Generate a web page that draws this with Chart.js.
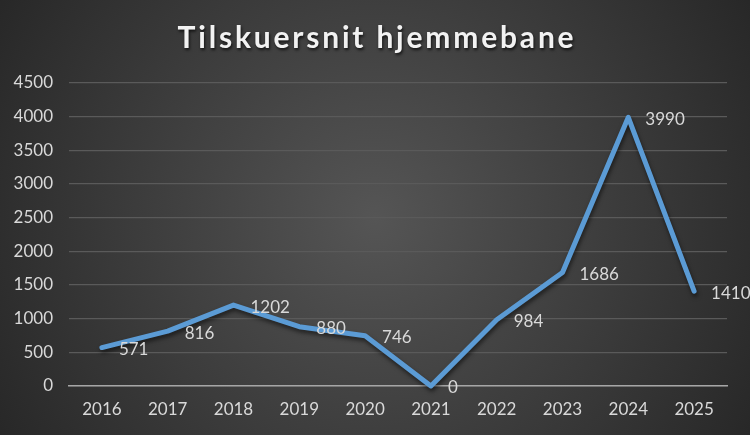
<!DOCTYPE html>
<html>
<head>
<meta charset="utf-8">
<script src="https://cdn.jsdelivr.net/npm/chart.js@4"></script>
<style>
  html, body { margin: 0; padding: 0; background: #2b2b2b; }
  #wrap { width: 750px; height: 435px; position: relative; }
</style>
</head>
<body>
<div id="wrap"><canvas id="chart"></canvas></div>
<script>
const years = ["2016", "2017", "2018", "2019", "2020", "2021", "2022", "2023", "2024", "2025"];
const attendance = [571, 816, 1202, 880, 746, 0, 984, 1686, 3990, 1410];
const chartTitle = "Tilskuersnit hjemmebane";

const textColor = "#d9d9d9";
const lineColor = "#5b9bd5";

// dark radial background + title drawn by hand (needs letter spacing)
const backdrop = {
  id: "backdrop",
  beforeDraw(chart) {
    const { ctx, width, height } = chart;
    ctx.save();
    const g = ctx.createRadialGradient(width / 2, height / 2, 0, width / 2, height / 2, width * 0.6);
    g.addColorStop(0, "#555555");
    g.addColorStop(1, "#262626");
    ctx.fillStyle = g;
    ctx.fillRect(0, 0, width, height);
    ctx.restore();
  },
  afterDraw(chart) {
    const { ctx, width } = chart;
    ctx.save();
    ctx.font = "bold 30px Lato";
    ctx.letterSpacing = "2.8px";
    ctx.textAlign = "center";
    ctx.textBaseline = "middle";
    ctx.shadowColor = "rgba(0,0,0,0.7)";
    ctx.shadowOffsetX = 1;
    ctx.shadowOffsetY = 2;
    ctx.shadowBlur = 3;
    ctx.fillStyle = "#f2f2f2";
    ctx.fillText(chartTitle, width / 2 + 2, 38);
    ctx.restore();
  },
};

const lineShadow = {
  id: "lineShadow",
  beforeDatasetDraw(chart) {
    const ctx = chart.ctx;
    ctx.save();
    ctx.shadowColor = "rgba(0,0,0,0.55)";
    ctx.shadowOffsetX = 1;
    ctx.shadowOffsetY = 3;
    ctx.shadowBlur = 4;
  },
  afterDatasetDraw(chart) {
    chart.ctx.restore();
  },
};

const valueLabels = {
  id: "valueLabels",
  afterDatasetsDraw(chart) {
    const { ctx } = chart;
    const meta = chart.getDatasetMeta(0);
    ctx.save();
    ctx.font = "17px Lato";
    ctx.fillStyle = textColor;
    ctx.textAlign = "left";
    ctx.textBaseline = "middle";
    meta.data.forEach((pt, i) => {
      ctx.fillText(String(attendance[i]), pt.x + 17, pt.y + 2);
    });
    ctx.restore();
  },
};

new Chart(document.getElementById("chart"), {
  type: "line",
  data: {
    labels: years,
    datasets: [
      {
        data: attendance,
        borderColor: lineColor,
        borderWidth: 5,
        borderCapStyle: "round",
        borderJoinStyle: "round",
        pointRadius: 0,
        tension: 0,
        clip: false,
      },
    ],
  },
  options: {
    responsive: true,
    maintainAspectRatio: false,
    animation: false,
    layout: { padding: { top: 83, right: 23, bottom: 0, left: 0 } },
    plugins: {
      legend: { display: false },
      title: { display: false },
      tooltip: { enabled: false },
    },
    scales: {
      x: {
        offset: true,
        grid: { display: false, drawTicks: false },
        border: { color: "#a6a6a6", width: 1.5 },
        ticks: { color: textColor, font: { family: "Lato", size: 17 }, padding: 13, maxRotation: 0 },
        afterFit(scale) { scale.height = 49; },
      },
      y: {
        min: 0,
        max: 4500,
        ticks: {
          stepSize: 500,
          color: textColor,
          font: { family: "Lato", size: 17 },
          padding: 16,
          callback: (v) => String(v),
        },
        grid: { color: "#5a5a5a", lineWidth: 1.3, drawTicks: false },
        border: { display: false },
        afterFit(scale) { scale.width = 69; },
      },
    },
  },
  plugins: [backdrop, lineShadow, valueLabels],
});
</script>
</body>
</html>
